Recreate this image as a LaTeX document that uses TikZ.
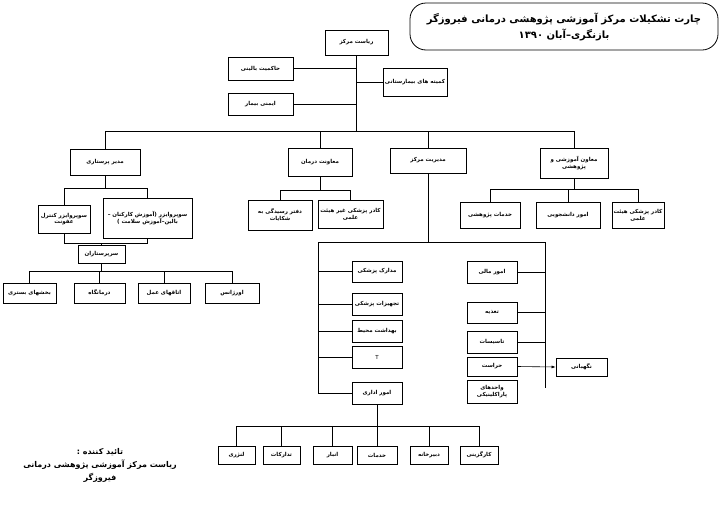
\documentclass[tikz,border=0pt]{standalone}
\usepackage{fontspec}
\usetikzlibrary{arrows.meta,shadows}
\newfontfamily\pfont[Script=Arabic]{DejaVu Sans}
\TeXXeTstate=1
\newcommand\fa[1]{\beginR #1\endR}
\newcommand\bx[6]{\node[box,minimum width=#4pt,minimum height=#5pt] (#1) at (#2,#3) {#6};}
\begin{document}
\begin{tikzpicture}[x=1pt,y=-1pt,
  box/.style={draw,line width=0.7pt,fill=white,inner sep=1pt,align=center,
    font=\pfont\bfseries\fontsize{5.5}{6.8}\selectfont,
    drop shadow={shadow xshift=0.8pt,shadow yshift=-0.8pt,fill=black,opacity=1}},
  ln/.style={line width=0.6pt}]
\useasboundingbox (0,0) rectangle (726,509);
\fill[white] (0,0) rectangle (726,509);

% title
\node[draw,line width=0.8pt,rounded corners=16pt,minimum width=308pt,minimum height=47pt,align=center,
  font=\pfont\bfseries\fontsize{10}{16}\selectfont] (title) at (564,26.5)
  {\fa{چارت تشکیلات مرکز آموزشی پژوهشی درمانی فیروزگر}\\\fa{بازنگری–آبان ۱۳۹۰}};

% top
\bx{root}{356.5}{42.5}{63}{25}{\fa{ریاست مرکز}}
\bx{hak}{260.5}{68.5}{65}{23}{\fa{حاکمیت بالینی}}
\bx{imn}{260.5}{104}{65}{22}{\fa{ایمنی بیمار}}
\bx{kom}{415}{82}{64}{28}{\fa{کمیته های بیمارستانی}}

% level 2
\bx{mp}{105}{162}{70}{26}{\fa{مدیر پرستاری}}
\bx{md}{320}{162}{64}{28}{\fa{معاونت درمان}}
\bx{mm}{428}{160.5}{76}{25}{\fa{مدیریت مرکز}}
\bx{ma}{574}{163}{68}{30}{\fa{معاون آموزشی و}\\\fa{پژوهشی}}

% nursing subtree
\bx{sk}{64}{219}{52}{28}{\fa{سوپروایزر کنترل}\\\fa{عفونت}}
\bx{sa}{147.5}{218}{89}{40}{\fa{سوپروایزر (آموزش کارکنان –}\\\fa{بالین–آموزش سلامت )}}
\bx{sar}{101.5}{254}{47}{18}{\fa{سرپرستاران}}
\bx{l1}{29.5}{293}{53}{20}{\fa{بخشهای بستری}}
\bx{l2}{99.5}{293}{51}{20}{\fa{درمانگاه}}
\bx{l3}{164}{293}{52}{20}{\fa{اتاقهای عمل}}
\bx{l4}{232}{293}{54}{20}{\fa{اورژانس}}

% treatment subtree
\bx{dr}{280}{215}{64}{30}{\fa{دفتر رسیدگی به}\\\fa{شکایات}}
\bx{kg}{350.5}{214}{65}{28}{\fa{کادر پزشکی غیر هیئت}\\\fa{علمی}}

% education subtree
\bx{kh}{490}{215}{60}{26}{\fa{خدمات پژوهشی}}
\bx{ad}{568}{215}{64}{26}{\fa{امور دانشجویی}}
\bx{kp}{638}{215}{52}{26}{\fa{کادر پزشکی هیئت}\\\fa{علمی}}

% center subtree left
\bx{mad}{377}{271.5}{50}{21}{\fa{مدارک پزشکی}}
\bx{taj}{377}{304}{50}{22}{\fa{تجهیزات پزشکی}}
\bx{beh}{377}{331}{50}{22}{\fa{بهداشت محیط}}
\node[box,minimum width=50pt,minimum height=22pt,font=\pfont\fontsize{5.5}{6.8}\selectfont] (tt) at (377,357) {T};
\bx{adm}{377}{393}{50}{22}{\fa{امور اداری}}

% center subtree right
\bx{mal}{492}{272}{50}{22}{\fa{امور مالی}}
\bx{tag}{492}{312.5}{50}{21}{\fa{تغذیه}}
\bx{tas}{492}{342}{50}{22}{\fa{تاسیسات}}
\bx{har}{492}{366.5}{50}{19}{\fa{حراست}}
\bx{vah}{492}{391.5}{50}{23}{\fa{واحدهای}\\\fa{پاراکلینیکی}}
\bx{neg}{581.5}{367}{51}{18}{\fa{نگهبانی}}

% bottom row
\bx{q1}{236.5}{455}{37}{18}{\fa{لنژری}}
\bx{q2}{281.5}{455}{37}{18}{\fa{تدارکات}}
\bx{q3}{332.5}{455}{39}{18}{\fa{انبار}}
\bx{q4}{377}{455}{40}{18}{\fa{خدمات}}
\bx{q5}{429}{455}{38}{18}{\fa{دبیرخانه}}
\bx{q6}{479}{455}{38}{18}{\fa{کارگزینی}}

% signature
\node[align=center,font=\pfont\bfseries\fontsize{8}{13}\selectfont] (sig) at (100,465)
  {\fa{تائید کننده :}\\\fa{ریاست مرکز آموزشی پژوهشی درمانی}\\\fa{فیروزگر}};

% ---- connectors ----
\coordinate (b1) at (0,131);
\draw[ln] (root.south) -- (root.south |- b1);
\draw[ln] (hak.east) -- (hak.east -| root.south);
\draw[ln] (imn.east) -- (imn.east -| root.south);
\draw[ln] (kom.west) -- (kom.west -| root.south);
\draw[ln] (mp.north) -- (mp.north |- b1) -- (ma.north |- b1) -- (ma.north);
\draw[ln] (md.north) -- (md.north |- b1);
\draw[ln] (mm.north) -- (mm.north |- b1);

% nursing
\coordinate (s1) at (0,188);
\coordinate (s2) at (0,243);
\coordinate (s3) at (0,271);
\draw[ln] (mp.south) -- (mp.south |- s1);
\draw[ln] (sk.north) -- (sk.north |- s1) -| (sa.north);
\draw[ln] (sk.south) -- (sk.south |- s2) -| (sa.south);
\draw[ln] (sar.north) -- (sar.north |- s2);
\draw[ln] (sar.south) -- (sar.south |- s3);
\draw[ln] (l1.north) -- (l1.north |- s3) -| (l4.north);
\draw[ln] (l2.north) -- (l2.north |- s3);
\draw[ln] (l3.north) -- (l3.north |- s3);

% treatment
\coordinate (t1) at (0,190);
\draw[ln] (md.south) -- (md.south |- t1);
\draw[ln] (dr.north) -- (dr.north |- t1) -| (kg.north);

% education
\coordinate (e1) at (0,189);
\draw[ln] (ma.south) -- (ma.south |- e1);
\draw[ln] (kh.north) -- (kh.north |- e1) -| (kp.north);
\draw[ln] (ad.north) -- (ad.north |- e1);

% center management
\coordinate (lv) at (318,242);
\coordinate (rv) at (545,242);
\coordinate (rvb) at (545,388);
\draw[ln] (mm.south) -- (mm.south |- lv);
\draw[ln] (adm.west) -| (lv) -- (rv) -- (rvb);
\draw[ln] (mad.west) -- (mad.west -| lv);
\draw[ln] (taj.west) -- (taj.west -| lv);
\draw[ln] (beh.west) -- (beh.west -| lv);
\draw[ln] (tt.west) -- (tt.west -| lv);
\draw[ln] (mal.east) -- (mal.east -| rv);
\draw[ln] (tag.east) -- (tag.east -| rv);
\draw[ln] (tas.east) -- (tas.east -| rv);
\draw[ln,-{Latex[length=4pt,width=3pt]}] (har.east) -- (neg.west);

% bottom
\coordinate (b5) at (0,426);
\draw[ln] (adm.south) -- (adm.south |- b5);
\draw[ln] (q1.north) -- (q1.north |- b5) -| (q6.north);
\draw[ln] (q2.north) -- (q2.north |- b5);
\draw[ln] (q3.north) -- (q3.north |- b5);
\draw[ln] (q4.north) -- (q4.north |- b5);
\draw[ln] (q5.north) -- (q5.north |- b5);
\end{tikzpicture}
\end{document}
